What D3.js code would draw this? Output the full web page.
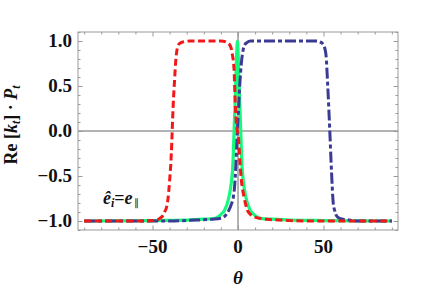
<!DOCTYPE html>
<html><head><meta charset="utf-8">
<script src="https://cdn.jsdelivr.net/npm/d3@7/dist/d3.min.js"></script>
<style>
html,body{margin:0;padding:0;background:#fff;}
svg text{font-family:"Liberation Serif",serif;}
</style></head>
<body><svg id="c" width="429" height="289"></svg>
<script>
// ---- data (theta in degrees, value = Re[k_t]·P_t) ----
const greenTheta = [-90,-50,-30,-20,-13.65,-9.65,-7.85,-5.25,-3.95,-2.95,-2.3,-1.55,-0.95,-0.35,0.25,0.85,1.6,2.25,3.25,4.55,7.15,8.95,12.95,20,30,50,90];
const greenValue = [-1,-0.995,-0.99,-0.98,-0.97,-0.92,-0.88,-0.73,-0.58,-0.36,0,0.4,0.76,1,0.76,0.4,0,-0.36,-0.58,-0.73,-0.88,-0.92,-0.97,-0.98,-0.99,-0.995,-1];

const blueTheta = [-90,-40,-25,-15,-10,-7,-5.3,-4,-2.7,-2,-1.2,-0.4,0.2,1,2,3,3.5,5,7.5,46,48,50,51,51.5,52.5,53.7,54.7,55.7,56.5,57.3,58.5,60.2,65,70,90];
const blueValue = [-1,-1,-0.99,-0.98,-0.97,-0.93,-0.88,-0.82,-0.73,-0.62,-0.36,0,0.2,0.5,0.76,0.9,0.94,0.98,1,1,0.99,0.96,0.9,0.84,0.5,0,-0.45,-0.8,-0.88,-0.93,-0.96,-0.975,-0.99,-1,-1];

const redTheta = [-90,-55,-50,-47,-45,-44,-43,-42,-41,-40,-39,-38.5,-38,-37,-36.5,-36,-35,-34,-32,-28,-10,-6,-4,-3.3,-2.3,-1.75,-0.8,0.2,1.2,2,3.5,5.5,7.5,10.4,17,25,40,90];
const redValue = [-1,-1,-0.995,-0.985,-0.96,-0.94,-0.9,-0.86,-0.76,-0.55,-0.25,0,0.25,0.6,0.76,0.86,0.95,0.975,0.99,1,1,0.98,0.92,0.85,0.68,0.38,0.05,-0.06,-0.36,-0.55,-0.73,-0.88,-0.93,-0.96,-0.98,-0.99,-1,-1];

const xMajorTicks = [-50,0,50];
const xMinorTicks = [-90,-80,-70,-60,-40,-30,-20,-10,10,20,30,40,60,70,80,90];
const yMajorTicks = [-1.0,-0.5,0.0,0.5,1.0];
const yMinorTicks = [-1.1,-0.9,-0.8,-0.7,-0.6,-0.4,-0.3,-0.2,-0.1,0.1,0.2,0.3,0.4,0.6,0.7,0.8,0.9,1.1];

// ---- layout ----
const FONT = "Liberation Serif";
const svg = d3.select("#c");
const L=78, R=398, T=32, B=230;
const x = d3.scaleLinear().domain([-93.6,93.6]).range([L,R]);
const y = d3.scaleLinear().domain([-1.1,1.1]).range([B,T]);
const fmtY = v => (v<0?"\u2212":"") + Math.abs(v).toFixed(1);
const fmtX = v => (v<0?"\u2212":"") + Math.abs(v);

// zero lines
svg.append("line").attr("x1",L).attr("x2",R).attr("y1",y(0)).attr("y2",y(0)).attr("stroke","#666").attr("stroke-width",1);
svg.append("line").attr("x1",x(0)).attr("x2",x(0)).attr("y1",T).attr("y2",B).attr("stroke","#666").attr("stroke-width",1);

// axes with inward ticks
const tickCol="#999";
function addAxis(axisFn, scale, ticks, size, transform){
  const g = svg.append("g").attr("transform",transform)
    .call(axisFn(scale).tickValues(ticks).tickSize(size).tickFormat(""));
  g.select(".domain").remove();
  g.selectAll("text").remove();
  g.selectAll("line").attr("stroke",tickCol).attr("stroke-width",1);
  return g;
}
addAxis(d3.axisTop, x, xMajorTicks, 4.5, `translate(0,${B})`);
addAxis(d3.axisTop, x, xMinorTicks, 2.5, `translate(0,${B})`);
addAxis(d3.axisBottom, x, xMajorTicks, 4.5, `translate(0,${T})`);
addAxis(d3.axisBottom, x, xMinorTicks, 2.5, `translate(0,${T})`);
addAxis(d3.axisRight, y, yMajorTicks, 4.5, `translate(${L},0)`);
addAxis(d3.axisRight, y, yMinorTicks, 2.5, `translate(${L},0)`);
addAxis(d3.axisLeft, y, yMajorTicks, 4.5, `translate(${R},0)`);
addAxis(d3.axisLeft, y, yMinorTicks, 2.5, `translate(${R},0)`);

// frame
svg.append("rect").attr("x",L).attr("y",T).attr("width",R-L).attr("height",B-T)
  .attr("fill","none").attr("stroke",tickCol).attr("stroke-width",1);

function txt(sel){
  return sel.attr("font-family",FONT).attr("font-weight","bold").attr("fill","#111");
}

// tick labels
txt(svg.append("g").selectAll("text").data(yMajorTicks).join("text"))
  .attr("x",72).attr("y",d=>y(d)+6.3).attr("text-anchor","end")
  .attr("font-size",19).text(fmtY);
txt(svg.append("g").selectAll("text").data(xMajorTicks).join("text"))
  .attr("x",d=>x(d)).attr("y",253).attr("text-anchor","middle")
  .attr("font-size",19).text(fmtX);

// axis labels
txt(svg.append("text")).attr("x",x(0)).attr("y",284).attr("text-anchor","middle")
  .attr("font-size",19).attr("font-style","italic").text("\u03B8");
const yl = txt(svg.append("text")).attr("transform","translate(17,125) rotate(-90)")
  .attr("text-anchor","middle").attr("font-size",18);
yl.append("tspan").text("Re [");
yl.append("tspan").attr("font-style","italic").text("k");
yl.append("tspan").attr("font-style","italic").attr("font-size",12).attr("dy",3).text("t");
yl.append("tspan").attr("dy",-3).text("] \u00B7 ");
yl.append("tspan").attr("font-style","italic").text("P");
yl.append("tspan").attr("font-style","italic").attr("font-size",12).attr("dy",3).text("t");

// annotation
const an = txt(svg.append("text")).attr("x",103).attr("y",204).attr("font-size",18);
an.append("tspan").attr("font-style","italic").text("\u00EA");
an.append("tspan").attr("font-style","italic").attr("font-size",12).attr("dy",3).text("i");
an.append("tspan").attr("dy",-3).text("=");
an.append("tspan").attr("font-style","italic").text("e");
an.append("tspan").attr("font-size",10).attr("font-weight","normal").attr("dx",1).attr("dy",2).text("\u2225");

// curves
const line = d3.line().x(d=>x(d[0])).y(d=>y(d[1])).curve(d3.curveMonotoneX);
svg.append("clipPath").attr("id","cp").append("rect").attr("x",L).attr("y",T).attr("width",R-L).attr("height",B-T);
const series = [
  {t:greenTheta, v:greenValue, color:"#14fa7d", dash:null, w:3.2},
  {t:blueTheta, v:blueValue, color:"#3b3b96", dash:"11,3,4,3", w:3},
  {t:redTheta, v:redValue, color:"#f21818", dash:"7,3.5", w:3}
];
series.forEach(s=>{
  svg.append("path").datum(s.t.map((t,i)=>[t,s.v[i]]))
    .attr("d",line).attr("fill","none").attr("stroke",s.color)
    .attr("stroke-width",s.w).attr("stroke-dasharray",s.dash)
    .attr("clip-path","url(#cp)");
});
</script></body></html>
